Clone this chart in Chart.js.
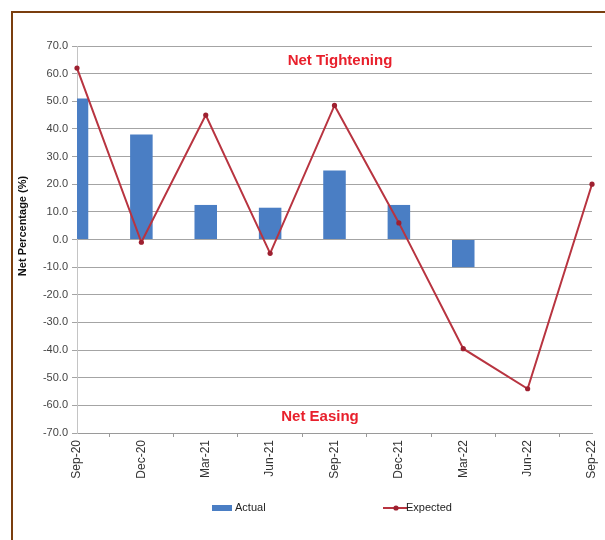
<!DOCTYPE html>
<html>
<head>
<meta charset="utf-8">
<script src="https://cdn.jsdelivr.net/npm/chart.js@4/dist/chart.umd.min.js"></script>
<style>
  html, body { margin: 0; padding: 0; background: #fff; overflow: hidden; }
  #wrap { position: relative; width: 605px; height: 540px; }
  #frame { position: absolute; left: 11px; top: 11px; width: 700px; height: 700px;
           border: 2px solid #7a3e0e; box-sizing: border-box; background: #fff; }
  #c { position: absolute; left: 0; top: 0; }
</style>
</head>
<body>
<div id="wrap">
  <div id="frame"></div>
  <canvas id="c" width="605" height="540"></canvas>
</div>
<script>
// Quarters on the category axis
const quarters = ['Sep-20', 'Dec-20', 'Mar-21', 'Jun-21', 'Sep-21', 'Dec-21', 'Mar-22', 'Jun-22', 'Sep-22'];
// Net percentage, actual (bars) and expected (line)
const actual   = [51, 38, 12.5, 11.5, 25, 12.5, -10, null, null];
const expected = [62, -1, 45, -5, 48.5, 6, -39.5, -54, 20];
// Value axis range and step
const yMin = -70, yMax = 70, yStep = 10;

const narrow = '"Liberation Sans Narrow", "Arial Narrow", "Liberation Sans", Arial, sans-serif';
const lineColor = '#b83440';
const barColor = '#4a7ec4';

const overlay = {
  id: 'overlay',
  afterDraw(chart) {
    const ctx = chart.ctx;
    const y = chart.scales.y;
    ctx.save();

    // region notes
    ctx.fillStyle = '#e8202c';
    ctx.font = 'bold 15px ' + narrow;
    ctx.textAlign = 'center';
    ctx.textBaseline = 'middle';
    ctx.fillText('Net Tightening', 340, y.getPixelForValue(64.5));
    ctx.fillText('Net Easing', 320, y.getPixelForValue(-64));

    // value axis title
    ctx.save();
    ctx.translate(23, 226);
    ctx.rotate(-Math.PI / 2);
    ctx.fillStyle = '#111';
    ctx.font = 'bold 11px ' + narrow;
    ctx.fillText('Net Percentage (%)', 0, 0);
    ctx.restore();

    // legend
    const ly = 508;
    ctx.fillStyle = barColor;
    ctx.fillRect(212, ly - 3, 20, 6);
    ctx.fillStyle = '#222';
    ctx.font = '11px ' + narrow;
    ctx.textAlign = 'left';
    ctx.fillText('Actual', 235, ly);

    ctx.strokeStyle = lineColor;
    ctx.lineWidth = 2;
    ctx.beginPath();
    ctx.moveTo(383, ly);
    ctx.lineTo(408, ly);
    ctx.stroke();
    ctx.fillStyle = '#9e2030';
    ctx.beginPath();
    ctx.arc(396, ly, 2.6, 0, Math.PI * 2);
    ctx.fill();
    ctx.fillStyle = '#222';
    ctx.fillText('Expected', 406, ly);

    ctx.restore();
  }
};

new Chart(document.getElementById('c'), {
  data: {
    labels: quarters,
    datasets: [
      {
        type: 'line',
        label: 'Expected',
        data: expected,
        borderColor: lineColor,
        borderWidth: 2,
        pointRadius: 2.6,
        pointBackgroundColor: '#9e2030',
        pointBorderColor: '#9e2030',
        pointBorderWidth: 0,
        tension: 0,
        order: 0
      },
      {
        type: 'bar',
        label: 'Actual',
        data: actual,
        backgroundColor: barColor,
        categoryPercentage: 0.35,
        barPercentage: 1,
        clip: 0,
        order: 1
      }
    ]
  },
  options: {
    responsive: false,
    animation: false,
    devicePixelRatio: 1,
    layout: { padding: { top: 46, right: 13, bottom: 47, left: 0 } },
    plugins: { legend: { display: false }, tooltip: { enabled: false } },
    scales: {
      x: {
        type: 'category',
        offset: false,
        grid: { drawOnChartArea: false, drawTicks: true, tickLength: 4, color: '#9a9a9a' },
        border: { color: '#9a9a9a' },
        ticks: {
          autoSkip: false, minRotation: 90, maxRotation: 90, padding: 3,
          color: '#333', font: { family: narrow, size: 12 }
        },
        afterFit(scale) {
          scale.height = 60;
          scale.paddingLeft = 0;
          scale.paddingRight = 0;
        }
      },
      y: {
        min: yMin, max: yMax,
        grid: { color: '#a4a4a4', tickLength: 5 },
        border: { color: '#c4c4c4' },
        ticks: {
          stepSize: yStep, padding: 4, color: '#444',
          font: { family: narrow, size: 11 },
          callback: v => v.toFixed(1)
        },
        afterFit(scale) { scale.width = 77; }
      }
    }
  },
  plugins: [overlay]
});
</script>
</body>
</html>
